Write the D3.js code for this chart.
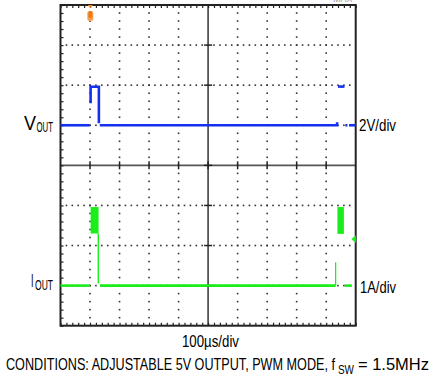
<!DOCTYPE html>
<html>
<head>
<meta charset="utf-8">
<script src="https://cdn.jsdelivr.net/npm/d3@7"></script>
<style>
  body { margin: 0; background: #fff; }
  svg { display: block; font-family: "Liberation Sans Narrow", "Liberation Sans", Arial, sans-serif; }
</style>
</head>
<body>
<div id="chart"></div>
<script>
// scope settings
var timePerDiv = 100;      // us
var voltsPerDiv = 2;       // V
var ampsPerDiv = 1;        // A
var nDivX = 10, nDivY = 8;

// VOUT trace, time in us, volts relative to channel marker
var voutSegs = [
    { t: [0, 99], v: [0, 0] },
    { t: [102, 102, 130, 130], v: [1.1, 1.92, 1.92, 0.1] },
    { t: [133, 936, 937, 937], v: [0, 0, 0, 0.15] },
    { t: [940, 962], v: [1.93, 1.93] },
    { t: [965, 972], v: [0, 0] },
    { t: [978, 1000], v: [0, 0] }
];

// IOUT trace, amps relative to channel marker
var ioutSegs = [
    { t: [0, 100], v: [0, 0] },
    { t: [128, 128], v: [1.3, 0.05] },
    { t: [134, 932], v: [0, 0] },
    { t: [963, 987], v: [0, 0] }
];
// switching bursts of IOUT (ripple envelope)
var burstStart = [102, 938];
var burstEnd = [129, 960];
var burstMin = [1.3, 1.29];
var burstMax = [1.96, 1.96];
var spikeTime = 932, spikeLevel = 0.58;

var triggerTime = 101;
var ioutMarkerLevel = 1.16;

var width = 433, height = 385;
var L = 60.5, R = 355.7, T = 5, B = 325.7;

var svg = d3.select("#chart")
    .append("svg")
    .attr("width", width)
    .attr("height", height);

var x = d3.scaleLinear().domain([0, nDivX * timePerDiv]).range([L, R]);
var yDiv = d3.scaleLinear().domain([0, nDivY]).range([T, B]);
// VOUT marker sits 3 div from top, IOUT marker 7 div from top
var yV = d3.scaleLinear().domain([-5 * voltsPerDiv, 3 * voltsPerDiv]).range([B, T]);
var yI = d3.scaleLinear().domain([-1 * ampsPerDiv, 7 * ampsPerDiv]).range([B, T]);

var minorT = d3.range(0, nDivX * timePerDiv + 1, timePerDiv / 5);
var minorD = d3.range(0, nDivY + 0.001, 0.2);

// dotted graticule
var dots = svg.append("g").attr("fill", "#333");
[1, 2, 3, 4, 6, 7, 8, 9].forEach(function(k) {
    var xx = x(k * timePerDiv);
    dots.selectAll(null)
        .data(minorD.filter(function(d) { return d > 0.1 && d < nDivY - 0.1; }))
        .enter()
        .append("rect")
        .attr("x", xx - 0.8)
        .attr("y", function(d) { return yDiv(d) - 0.8; })
        .attr("width", 1.6)
        .attr("height", 1.6);
});
[1, 2, 3, 5, 6, 7].forEach(function(k) {
    var yy = yDiv(k);
    dots.selectAll(null)
        .data(minorT.filter(function(d) { return d > 10 && d < 990; }))
        .enter()
        .append("rect")
        .attr("x", function(d) { return x(d) - 0.8; })
        .attr("y", yy - 0.8)
        .attr("width", 1.6)
        .attr("height", 1.6);
});

// center cross
svg.append("line").attr("x1", x(500)).attr("x2", x(500)).attr("y1", T).attr("y2", B)
    .attr("stroke", "#555").attr("stroke-width", 1.8);
svg.append("line").attr("x1", L).attr("x2", R).attr("y1", yDiv(4)).attr("y2", yDiv(4))
    .attr("stroke", "#555").attr("stroke-width", 1.8);
var cross = svg.append("g").attr("stroke", "#222").attr("stroke-width", 1.5);
d3.range(1, nDivX).forEach(function(k) {
    cross.append("line").attr("x1", x(k * timePerDiv)).attr("x2", x(k * timePerDiv))
        .attr("y1", yDiv(4) - 4).attr("y2", yDiv(4) + 4);
});
d3.range(1, nDivY).forEach(function(k) {
    cross.append("line").attr("x1", x(500) - 4).attr("x2", x(500) + 4)
        .attr("y1", yDiv(k)).attr("y2", yDiv(k));
});

// minor ticks on the frame
function tickAxis(g) {
    g.select(".domain").remove();
    g.selectAll("line").attr("stroke", "#222").attr("stroke-width", 1.2);
}
svg.append("g").attr("transform", "translate(0," + T + ")")
    .call(d3.axisBottom(x).tickValues(minorT).tickSize(3).tickFormat("")).call(tickAxis);
svg.append("g").attr("transform", "translate(0," + B + ")")
    .call(d3.axisTop(x).tickValues(minorT).tickSize(3).tickFormat("")).call(tickAxis);
svg.append("g").attr("transform", "translate(" + L + ",0)")
    .call(d3.axisRight(yDiv).tickValues(minorD).tickSize(3).tickFormat("")).call(tickAxis);

// frame
svg.append("rect").attr("x", L).attr("y", T).attr("width", R - L).attr("height", B - T)
    .attr("fill", "none").attr("stroke", "#222").attr("stroke-width", 2);

// traces
var blue = "#1530f0", green = "#1aee1a";
function drawSegs(segs, yScale, color, w) {
    var line = d3.line()
        .x(function(d) { return x(d[0]); })
        .y(function(d) { return yScale(d[1]); });
    segs.forEach(function(s) {
        var pts = s.t.map(function(t, i) { return [t, s.v[i]]; });
        svg.append("path").attr("d", line(pts))
            .attr("fill", "none").attr("stroke", color)
            .attr("stroke-width", w);
    });
}
// bursts as filled envelopes
var area = d3.area()
    .x(function(d) { return x(d[0]); })
    .y0(function(d) { return yI(d[1]); })
    .y1(function(d) { return yI(d[2]); });
burstStart.forEach(function(s, i) {
    svg.append("path")
        .attr("d", area([[s, burstMin[i], burstMax[i]], [burstEnd[i], burstMin[i], burstMax[i]]]))
        .attr("fill", green);
});
drawSegs(ioutSegs.slice(0, 1), yI, green, 2.6);
drawSegs(ioutSegs.slice(1, 2), yI, green, 1.4);
drawSegs(ioutSegs.slice(2), yI, green, 2.6);
// thin spike line on the right
svg.append("line").attr("x1", x(spikeTime)).attr("x2", x(spikeTime))
    .attr("y1", yI(0)).attr("y2", yI(spikeLevel)).attr("stroke", green).attr("stroke-width", 1.3);
drawSegs(voutSegs, yV, blue, 2.6);

// IOUT channel level marker
var my = yI(ioutMarkerLevel);
svg.append("path")
    .attr("d", "M" + (R - 3.5) + "," + my + "l3,-2.5v5z M" + (R - 1) + "," + my + "h1.5")
    .attr("fill", green).attr("stroke", green).attr("stroke-width", 1.2);

// trigger marker
var tx = x(triggerTime);
svg.append("path")
    .attr("d", "M" + (tx - 2.5) + "," + T + "h5l-2.5,3z")
    .attr("fill", "#f08010");
svg.append("rect").attr("x", tx - 3).attr("y", 11).attr("width", 6).attr("height", 10)
    .attr("rx", 2.5).attr("fill", "#f5a050");
svg.append("rect").attr("x", tx - 1.8).attr("y", 11).attr("width", 3.6).attr("height", 7)
    .attr("rx", 1.5).attr("fill", "#f07a10");

// clipped header text at the top right
svg.append("text").attr("x", 333).attr("y", 2).attr("font-size", 9).attr("fill", "#999")
    .text("MAX");

// labels: each is one text, parts = [string, x, y, size, length]
function label(parts) {
    var t = svg.append("text").attr("fill", "#000");
    parts.forEach(function(p) {
        t.append("tspan").attr("x", p[1]).attr("y", p[2])
            .attr("font-size", p[3])
            .attr("textLength", p[4]).attr("lengthAdjust", "spacingAndGlyphs")
            .text(p[0]);
    });
    return t;
}
label([["V", 24, 129.5, 20, 12], ["OUT", 36.5, 132, 15, 16.5]]);
label([["I", 31, 286.5, 19, 2.5], ["OUT", 35, 289.5, 15, 18]]);
label([["2V/div", 359, 130.5, 17, 37]]);
label([["1A/div", 360, 293, 17, 36]]);
label([["100\u00b5s/div", 182, 346.5, 16.5, 57]]);
label([["CONDITIONS: ADJUSTABLE 5V OUTPUT, PWM MODE, f", 6, 370, 16.5, 329],
       ["SW", 338, 373.5, 13, 16],
       ["= 1.5MHz", 358, 370, 16.5, 71]]);
</script>
</body>
</html>
